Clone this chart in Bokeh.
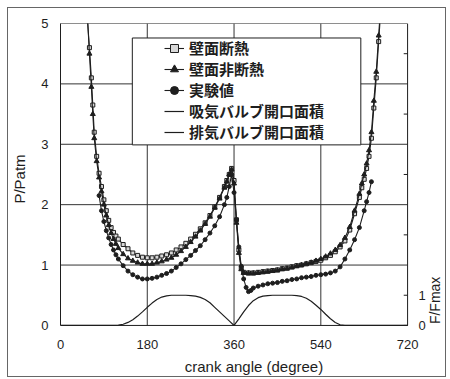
import math
from bokeh.plotting import figure
from bokeh.models import (Range1d, FixedTicker, Legend, LegendItem, BoxAnnotation)
from bokeh.core.properties import value
from bokeh.embed import file_html
from bokeh.resources import INLINE

# ---------------- data ----------------
sq_deg = [56, 60, 64, 67, 70, 75, 80, 85, 90, 95, 100, 105, 110, 115, 120, 130, 140, 150, 160, 170,
          180, 190, 200, 210, 220, 230, 240, 250, 260, 270, 280, 290, 300, 310, 320, 330, 340, 345,
          350, 355, 360, 365, 370, 375, 380, 390, 400, 410, 420, 430, 440, 450, 460, 470, 480, 490,
          500, 510, 520, 530, 540, 550, 560, 570, 580, 590, 600, 610, 620, 625, 630, 635, 640, 645,
          650, 655, 660, 665]
sq_p = [5.05, 4.6, 4.1, 3.65, 3.2, 2.8, 2.52, 2.3, 2.08, 1.9, 1.74, 1.62, 1.54, 1.48, 1.43, 1.34,
        1.27, 1.2, 1.16, 1.13, 1.12, 1.12, 1.13, 1.15, 1.17, 1.2, 1.25, 1.3, 1.36, 1.43, 1.51, 1.6,
        1.7, 1.82, 1.96, 2.12, 2.3, 2.4, 2.5, 2.6, 2.4, 1.75, 1.25, 0.95, 0.88, 0.87, 0.87, 0.88,
        0.89, 0.9, 0.91, 0.92, 0.94, 0.95, 0.97, 0.99, 1.0, 1.02, 1.04, 1.06, 1.08, 1.12, 1.16, 1.22,
        1.3, 1.4, 1.58, 1.85, 2.12, 2.28, 2.42, 2.6, 2.8, 3.1, 3.6, 4.1, 4.7, 5.3]

tri_deg = sq_deg
tri_p = [5.1, 4.5, 3.95, 3.5, 3.1, 2.72, 2.45, 2.22, 2.0, 1.82, 1.66, 1.53, 1.43, 1.35, 1.28, 1.18,
         1.11, 1.07, 1.04, 1.02, 1.02, 1.02, 1.04, 1.06, 1.09, 1.12, 1.17, 1.23, 1.3, 1.38, 1.47,
         1.57, 1.68, 1.8, 1.95, 2.1, 2.28, 2.38, 2.5, 2.58, 2.35, 1.7, 1.2, 0.93, 0.87, 0.86, 0.86,
         0.87, 0.88, 0.89, 0.9, 0.91, 0.93, 0.94, 0.96, 0.98, 1.0, 1.02, 1.04, 1.07, 1.1, 1.14, 1.19,
         1.25, 1.33, 1.45, 1.63, 1.9, 2.18, 2.35, 2.5, 2.68, 2.9, 3.2, 3.72, 4.2, 4.8, 5.4]

exp_deg = [80, 85, 90, 95, 100, 105, 110, 115, 120, 130, 140, 150, 160, 170, 180, 190, 200, 210,
           220, 230, 240, 250, 260, 270, 280, 290, 300, 310, 320, 330, 340, 345, 350, 355, 360, 365,
           370, 375, 380, 385, 390, 395, 400, 410, 420, 430, 440, 450, 460, 470, 480, 490, 500, 510,
           520, 530, 540, 550, 560, 570, 580, 590, 600, 610, 620, 630, 635, 640, 645]
exp_p = [2.15, 1.9, 1.72, 1.57, 1.45, 1.34, 1.25, 1.17, 1.1, 0.99, 0.9, 0.84, 0.8, 0.77, 0.77, 0.78,
         0.8, 0.83, 0.86, 0.9, 0.96, 1.02, 1.09, 1.16, 1.24, 1.32, 1.42, 1.53, 1.65, 1.8, 2.0, 2.12,
         2.3, 2.5, 2.2, 1.75, 1.3, 0.98, 0.77, 0.63, 0.56, 0.58, 0.62, 0.65, 0.67, 0.69, 0.7, 0.71,
         0.73, 0.74, 0.76, 0.77, 0.79, 0.8, 0.81, 0.83, 0.84, 0.85, 0.87, 0.9, 0.97, 1.1, 1.25, 1.42,
         1.62, 1.9, 2.05, 2.2, 2.38]

exh_deg = [0, 110, 120, 130, 140, 150, 160, 170, 180, 190, 200, 210, 220, 230, 240, 250, 260, 270,
           280, 290, 300, 310, 320, 330, 340, 350, 360]
exh_f = [0, 0, 0.01, 0.04, 0.1, 0.19, 0.31, 0.45, 0.6, 0.74, 0.86, 0.94, 0.98, 1.0, 1.0, 1.0, 1.0,
         0.99, 0.97, 0.93, 0.86, 0.75, 0.6, 0.45, 0.3, 0.15, 0.0]

int_deg = [360, 370, 380, 390, 400, 410, 420, 430, 440, 450, 460, 470, 480, 490, 500, 510, 520, 530,
           540, 550, 560, 570, 580, 590, 600, 720]
int_f = [0, 0.22, 0.45, 0.66, 0.82, 0.92, 0.97, 0.99, 1.0, 1.0, 1.0, 1.0, 1.0, 0.99, 0.96, 0.9, 0.8,
         0.67, 0.53, 0.37, 0.22, 0.1, 0.02, 0, 0, 0]

x_ticks = [0, 180, 360, 540, 720]
y_ticks = [0, 1, 2, 3, 4, 5]
x_grid = [180, 360, 540]
y_grid = [1, 2, 3, 4]
f_ticks = [0, 1, 3, 5, 7, 9]
f_labels = ["0", "1"]
f_label_pos = [0, 1]
f_title_pos = 0.83

names = ["壁面断熱", "壁面非断熱", "実験値", "吸気バルブ開口面積", "排気バルブ開口面積"]
x_title = "crank angle (degree)"
y_title = "P/Patm"
f_title = "F/Fmax"

X_MIN, X_MAX = 0, 720
Y_MIN, Y_MAX = 0, 5
F_MAX = 10

# ---------------- figure ----------------
INK = "#1e1e1e"
FONT = "Liberation Sans"

# the frame is widened to the right (and a little below zero) so that the
# right-hand F/Fmax scale, drawn at x = 720, is not clipped
p = figure(width=439, height=370, x_range=Range1d(X_MIN, 802.8), y_range=Range1d(-0.15, Y_MAX),
           output_backend="svg", toolbar_location=None,
           min_border_left=51, min_border_right=0, min_border_top=15, min_border_bottom=44)
p.styles = {"border": "1px solid #666", "margin": "7px 0 0 7px"}
p.background_fill_color = "white"
p.border_fill_color = "white"
p.outline_line_alpha = 0
p.extra_y_ranges = {"F": Range1d(-0.15 * F_MAX / Y_MAX, F_MAX)}
p.xgrid.visible = False
p.ygrid.visible = False

# axes
xa = p.xaxis[0]
xa.ticker = FixedTicker(ticks=x_ticks)
xa.axis_label = x_title
xa.bounds = (X_MIN, X_MAX)
xa.axis_line_alpha = 0
ya = p.yaxis[0]
ya.ticker = FixedTicker(ticks=y_ticks)
ya.axis_label = y_title
ya.bounds = (Y_MIN, Y_MAX)
for ax in (xa, ya):
    ax.major_tick_out = 0
    ax.major_tick_in = 0
    ax.minor_tick_out = 0
    ax.minor_tick_in = 0
    ax.axis_line_color = INK
    ax.major_label_text_font = FONT
    ax.major_label_text_font_size = "13px"
    ax.major_label_text_color = INK
    ax.axis_label_text_font = FONT
    ax.axis_label_text_font_size = "15px"
    ax.axis_label_text_font_style = "normal"
    ax.axis_label_text_color = INK
xa.major_label_standoff = 5
xa.axis_label_standoff = 6
ya.major_label_standoff = 12
ya.axis_label_standoff = 10

# grid lines (inside the 0..720 x 0..5 box)
p.segment(x0=[X_MIN] * len(y_grid), x1=[X_MAX] * len(y_grid), y0=y_grid, y1=y_grid,
          line_color="#333333", line_width=1)
p.segment(x0=x_grid, x1=x_grid, y0=[Y_MIN] * len(x_grid), y1=[Y_MAX] * len(x_grid),
          line_color="#333333", line_width=1)

# right-hand F/Fmax scale
p.segment(x0=[X_MAX - 8] * len(f_ticks), x1=[X_MAX] * len(f_ticks), y0=f_ticks, y1=f_ticks,
          y_range_name="F", line_color=INK, line_width=1)
p.text(x=[X_MAX] * len(f_labels), y=f_label_pos, text=f_labels, y_range_name="F",
       x_offset=11, text_align="left", text_baseline="middle",
       text_font=value(FONT), text_font_size=value("13px"), text_color=INK)
p.text(x=[X_MAX], y=[f_title_pos], text=[f_title], y_range_name="F", angle=math.pi / 2,
       x_offset=27, text_align="center", text_baseline="middle",
       text_font=value(FONT), text_font_size=value("14px"), text_color=INK)

# series
l1 = p.line(sq_deg, sq_p, line_color=INK, line_width=1.1)
s1 = p.scatter(sq_deg, sq_p, marker="square", size=4, fill_color="#d8d8d8", line_color=INK, line_width=1)
l2 = p.line(tri_deg, tri_p, line_color=INK, line_width=1.1)
s2 = p.scatter(tri_deg, tri_p, marker="triangle", size=5, fill_color=INK, line_color=INK)
l3 = p.line(exp_deg, exp_p, line_color=INK, line_width=1.1)
s3 = p.scatter(exp_deg, exp_p, marker="circle", size=4, fill_color=INK, line_color=INK)
l5 = p.line(exh_deg, exh_f, y_range_name="F", line_color=INK, line_width=1.2)
l4 = p.line(int_deg, int_f, y_range_name="F", line_color=INK, line_width=1.2)

# plot box
p.add_layout(BoxAnnotation(left=X_MIN, right=X_MAX, bottom=Y_MIN, top=Y_MAX, fill_alpha=0,
                           line_color=INK, line_width=1, line_alpha=1))

# legend box + legend
p.add_layout(BoxAnnotation(left=149, right=623, bottom=2.99, top=4.76, fill_color="white",
                           fill_alpha=1, line_color=INK, line_width=1, line_alpha=1))
legend = Legend(items=[LegendItem(label=names[0], renderers=[l1, s1]),
                       LegendItem(label=names[1], renderers=[l2, s2]),
                       LegendItem(label=names[2], renderers=[l3, s3]),
                       LegendItem(label=names[3], renderers=[l4]),
                       LegendItem(label=names[4], renderers=[l5])],
                location=(104, 192), border_line_alpha=0, background_fill_alpha=0,
                padding=0, margin=0, spacing=0, glyph_width=20, glyph_height=20,
                label_height=20, label_standoff=5, label_text_font="Noto Sans CJK JP",
                label_text_font_size="15px", label_text_font_style="bold",
                label_text_color=INK)
p.add_layout(legend)

open("out.html", "w").write(file_html(p, INLINE))
